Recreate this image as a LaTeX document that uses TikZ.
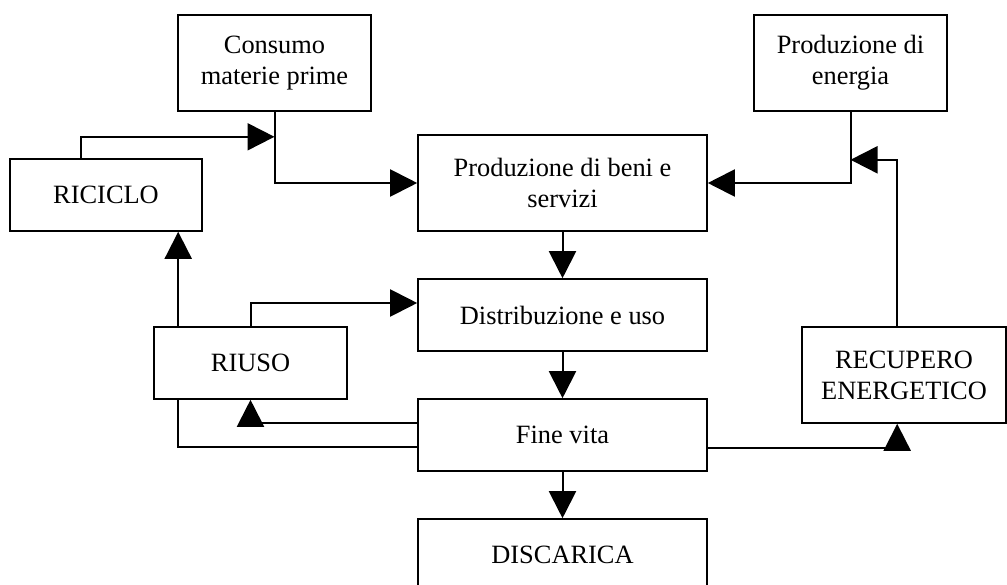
\documentclass[tikz,border=0pt]{standalone}
\usepackage{fontspec}
\setmainfont{Liberation Serif}
\usetikzlibrary{arrows.meta,calc}
\begin{document}
\begin{tikzpicture}[x=1pt,y=-1pt,
  box/.style={draw,line width=1.6pt,rectangle,inner sep=0pt,align=center,
    font=\fontsize{26.4}{31}\selectfont},
  conn/.style={line width=2pt},
  arr/.style={conn,-{Triangle[length=27pt,width=27pt]}}]
\useasboundingbox (0,0) rectangle (1007,584);
\node[box,minimum width=193pt,minimum height=96pt] (cons) at (274.5,63) {Consumo\\materie prime};
\node[box,minimum width=193pt,minimum height=96pt] (ener) at (850.5,63) {Produzione di\\energia};
\node[box,minimum width=192pt,minimum height=72pt] (ricic) at (106,195) {RICICLO};
\node[box,minimum width=289pt,minimum height=96pt] (prod) at (562.5,183) {Produzione di beni e\\servizi};
\node[box,minimum width=289pt,minimum height=72pt] (distr) at (562.5,315) {Distribuzione e uso};
\node[box,minimum width=193pt,minimum height=72pt] (riuso) at (250.5,363) {RIUSO};
\node[box,minimum width=204pt,minimum height=96pt] (recup) at (904,375) {RECUPERO\\ENERGETICO};
\node[box,minimum width=289pt,minimum height=72pt] (fine) at (562.5,435) {Fine vita};
\node[box,minimum width=289pt,minimum height=72pt] (disc) at (562.5,555) {DISCARICA};

\coordinate (j1) at ($(cons.south)+(0,25)$);
\coordinate (j2) at ($(ener.south)+(0,48)$);

% Consumo -> Produzione
\draw[arr] (cons.south) |- (prod.west);
% Riciclo -> Consumo line
\draw[arr] ($(ricic.north west)+(72,0)$) |- (j1);
% Energia -> Produzione
\draw[arr] (ener.south) |- (prod.east);
% Recupero -> Energia line
\draw[arr] ($(recup.north west)+(96,0)$) |- (j2);
% main chain
\draw[arr] (prod.south) -- (distr.north);
\draw[arr] (distr.south) -- (fine.north);
\draw[arr] (fine.south) -- (disc.north);
% Riuso -> Riciclo
\draw[arr] ($(riuso.north west)+(25,0)$) -- ($(ricic.south west)+(169,0)$);
% Riuso -> Distribuzione
\draw[arr] (riuso.north) |- ($(distr.west)+(0,-12)$);
% Fine vita -> Riuso
\draw[arr] ($(fine.west)+(0,-12)$) -| (riuso.south);
% Riuso -- Fine vita
\draw[conn] ($(riuso.south west)+(25,0)$) |- ($(fine.west)+(0,12)$);
% Fine vita -> Recupero
\draw[arr] ($(fine.east)+(0,13)$) -| ($(recup.south west)+(96,0)$);
\end{tikzpicture}
\end{document}
